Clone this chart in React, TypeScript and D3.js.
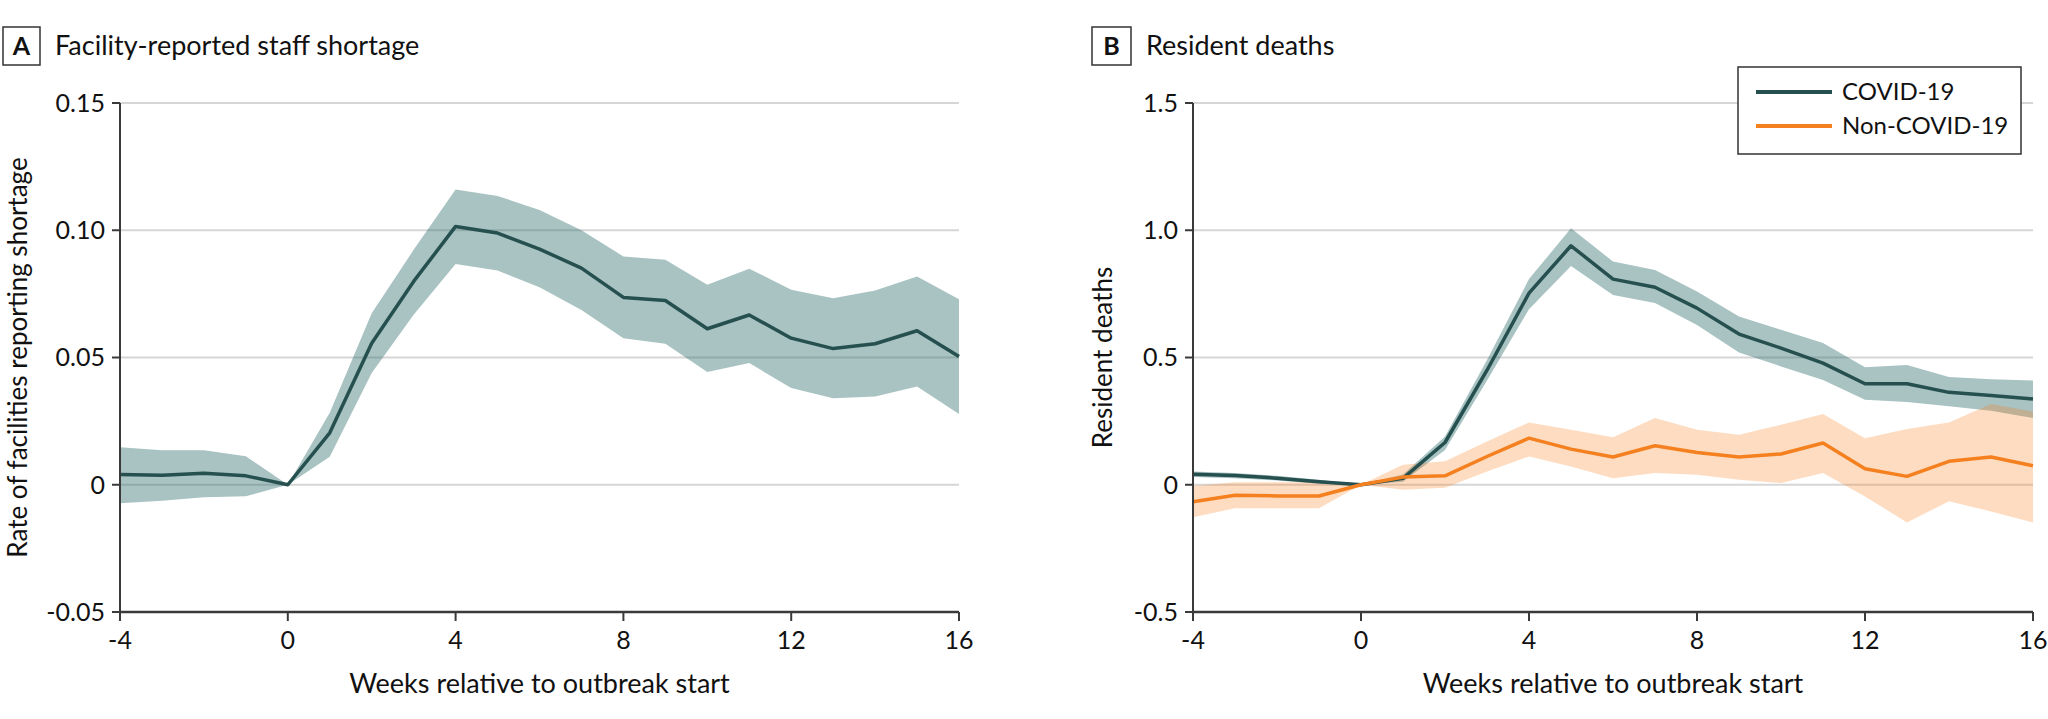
import React from "react";
import * as d3 from "d3";

const weeks = [-4, -3, -2, -1, 0, 1, 2, 3, 4, 5, 6, 7, 8, 9, 10, 11, 12, 13, 14, 15, 16];
const xTicks = [-4, 0, 4, 8, 12, 16];

// Panel A: facility-reported staff shortage
const shortageEst = [0.004, 0.0037, 0.0045, 0.0035, 0, 0.0204, 0.0556, 0.0799, 0.1015, 0.0989, 0.0926, 0.0851, 0.0736, 0.0724, 0.0613, 0.0667, 0.0576, 0.0535, 0.0554, 0.0605, 0.0504];
const shortageLow = [-0.0073, -0.0063, -0.0049, -0.0045, 0, 0.011, 0.0439, 0.0668, 0.0867, 0.0842, 0.0776, 0.0687, 0.0576, 0.0554, 0.0443, 0.0478, 0.038, 0.034, 0.0347, 0.0386, 0.0278];
const shortageHigh = [0.0147, 0.0136, 0.0136, 0.0112, 0, 0.0283, 0.0674, 0.0923, 0.116, 0.1135, 0.108, 0.1, 0.0897, 0.0884, 0.0786, 0.0849, 0.0766, 0.0733, 0.0763, 0.0818, 0.0729];
const shortageTicks = [-0.05, 0, 0.05, 0.1, 0.15];
const shortageTickLabels = ["-0.05", "0", "0.05", "0.10", "0.15"];

// Panel B: resident deaths
const covidEst = [0.041, 0.036, 0.026, 0.012, 0, 0.025, 0.166, 0.45, 0.753, 0.939, 0.808, 0.776, 0.694, 0.592, 0.537, 0.478, 0.397, 0.397, 0.363, 0.351, 0.337];
const covidLow = [0.03, 0.026, 0.017, 0.004, 0, 0.012, 0.137, 0.41, 0.69, 0.86, 0.746, 0.714, 0.628, 0.52, 0.465, 0.412, 0.334, 0.325, 0.308, 0.291, 0.262];
const covidHigh = [0.052, 0.046, 0.035, 0.02, 0, 0.04, 0.19, 0.49, 0.808, 1.008, 0.877, 0.844, 0.759, 0.661, 0.609, 0.557, 0.462, 0.471, 0.423, 0.415, 0.41];
const nonCovidEst = [-0.067, -0.041, -0.044, -0.044, 0, 0.03, 0.035, 0.111, 0.183, 0.14, 0.109, 0.153, 0.127, 0.109, 0.121, 0.164, 0.063, 0.033, 0.092, 0.109, 0.075];
const nonCovidLow = [-0.128, -0.092, -0.092, -0.092, 0, -0.02, -0.012, 0.052, 0.111, 0.072, 0.026, 0.046, 0.039, 0.02, 0.007, 0.046, -0.046, -0.148, -0.065, -0.105, -0.148];
const nonCovidHigh = [-0.005, 0.01, 0.01, 0.01, 0, 0.079, 0.092, 0.17, 0.245, 0.216, 0.187, 0.262, 0.216, 0.196, 0.236, 0.278, 0.183, 0.219, 0.245, 0.317, 0.288];
const deathTicks = [-0.5, 0, 0.5, 1.0, 1.5];
const deathTickLabels = ["-0.5", "0", "0.5", "1.0", "1.5"];

const legendLabels = ["COVID-19", "Non-COVID-19"];

const W = 2048;
const H = 719;
const FONT = "Lato, 'Noto Sans', sans-serif";
const TEAL = "#25504f";
const TEAL_BAND = "#336e6e";
const ORANGE = "#f5801f";
const ORANGE_BAND = "#f7821f";
const TOP = 103;
const BOTTOM = 612;

type Series = { est: number[]; low: number[]; high: number[]; line: string; band: string; bandOpacity: number };

function Panel(props: {
  x0: number; x1: number; letter: string; title: string; yTitle: string;
  domain: [number, number]; ticks: number[]; tickLabels: string[]; series: Series[];
  letterBox: [number, number]; titleX: number; yTitleX: number;
}) {
  const { x0, x1, domain, ticks, tickLabels, series } = props;
  const x = d3.scaleLinear().domain([-4, 16]).range([x0, x1]);
  const y = d3.scaleLinear().domain(domain).range([BOTTOM, TOP]);
  const rows = (s: Series) => weeks.map((w, i) => ({ w, e: s.est[i], lo: s.low[i], hi: s.high[i] }));
  const area = d3.area<any>().x((d) => x(d.w)).y0((d) => y(d.lo)).y1((d) => y(d.hi));
  const line = d3.line<any>().x((d) => x(d.w)).y((d) => y(d.e));
  const midY = (TOP + BOTTOM) / 2;
  return (
    <g>
      {/* title */}
      <rect x={props.letterBox[0]} y={27} width={props.letterBox[1] - props.letterBox[0]} height={38} fill="none" stroke="#333" strokeWidth={1.5} />
      <text x={(props.letterBox[0] + props.letterBox[1]) / 2} y={55} textAnchor="middle" fontWeight="bold" fontSize={25} fill="#111">{props.letter}</text>
      <text x={props.titleX} y={55} fontSize={27} fill="#111">{props.title}</text>
      {/* gridlines */}
      {ticks.filter((t) => t !== domain[0]).map((t) => (
        <line key={"g" + t} x1={x0} x2={x1} y1={y(t)} y2={y(t)} stroke="#d6d6d6" strokeWidth={2} />
      ))}
      {/* bands */}
      {series.map((s, i) => (
        <path key={"b" + i} d={area(rows(s)) || ""} fill={s.band} fillOpacity={s.bandOpacity} stroke="none" />
      ))}
      {/* lines */}
      {series.map((s, i) => (
        <path key={"l" + i} d={line(rows(s)) || ""} fill="none" stroke={s.line} strokeWidth={3.5} strokeLinejoin="round" />
      ))}
      {/* axes */}
      <line x1={x0} x2={x0} y1={TOP} y2={BOTTOM} stroke="#3a3a3a" strokeWidth={2} />
      <line x1={x0} x2={x1} y1={BOTTOM} y2={BOTTOM} stroke="#3a3a3a" strokeWidth={2.5} />
      {ticks.map((t, i) => (
        <g key={"yt" + t}>
          <line x1={x0 - 8} x2={x0} y1={y(t)} y2={y(t)} stroke="#3a3a3a" strokeWidth={2} />
          <text x={x0 - 15} y={y(t)} dy="0.35em" textAnchor="end" fontSize={25} fill="#111">{tickLabels[i]}</text>
        </g>
      ))}
      {xTicks.map((t) => (
        <g key={"xt" + t}>
          <line x1={x(t)} x2={x(t)} y1={BOTTOM} y2={BOTTOM + 9} stroke="#3a3a3a" strokeWidth={2} />
          <text x={x(t)} y={649} textAnchor="middle" fontSize={25} fill="#111">{t}</text>
        </g>
      ))}
      <text x={(x0 + x1) / 2} y={693} textAnchor="middle" fontSize={27} fill="#111">Weeks relative to outbreak start</text>
      <text transform={`translate(${props.yTitleX},${midY}) rotate(-90)`} textAnchor="middle" fontSize={26} fill="#111">{props.yTitle}</text>
    </g>
  );
}

export default function App() {
  const covid: Series = { est: covidEst, low: covidLow, high: covidHigh, line: TEAL, band: TEAL_BAND, bandOpacity: 0.42 };
  const nonCovid: Series = { est: nonCovidEst, low: nonCovidLow, high: nonCovidHigh, line: ORANGE, band: ORANGE_BAND, bandOpacity: 0.28 };
  const shortage: Series = { est: shortageEst, low: shortageLow, high: shortageHigh, line: TEAL, band: TEAL_BAND, bandOpacity: 0.42 };
  const legendX = 1738;
  const legendY = 67;
  const legendColors = [TEAL, ORANGE];
  return (
    <svg width={W} height={H} viewBox={`0 0 ${W} ${H}`} style={{ position: "absolute", left: 0, top: 0, background: "#fff" }} fontFamily={FONT}>
      <rect x={0} y={0} width={W} height={H} fill="#fff" />
      <Panel x0={120} x1={959} letter="A" title="Facility-reported staff shortage" yTitle="Rate of facilities reporting shortage"
        domain={[-0.05, 0.15]} ticks={shortageTicks} tickLabels={shortageTickLabels} series={[shortage]}
        letterBox={[3, 40]} titleX={55} yTitleX={27} />
      <Panel x0={1193} x1={2033} letter="B" title="Resident deaths" yTitle="Resident deaths"
        domain={[-0.5, 1.5]} ticks={deathTicks} tickLabels={deathTickLabels} series={[covid, nonCovid]}
        letterBox={[1092, 1131]} titleX={1146} yTitleX={1112} />
      <g>
        <rect x={legendX} y={legendY} width={283} height={87} fill="#fff" stroke="#333" strokeWidth={1.5} />
        {legendLabels.map((lab, i) => (
          <g key={lab}>
            <line x1={1756} x2={1832} y1={92 + i * 34} y2={92 + i * 34} stroke={legendColors[i]} strokeWidth={4} />
            <text x={1842} y={92 + i * 34} dy="0.35em" fontSize={24} fill="#111">{lab}</text>
          </g>
        ))}
      </g>
    </svg>
  );
}
